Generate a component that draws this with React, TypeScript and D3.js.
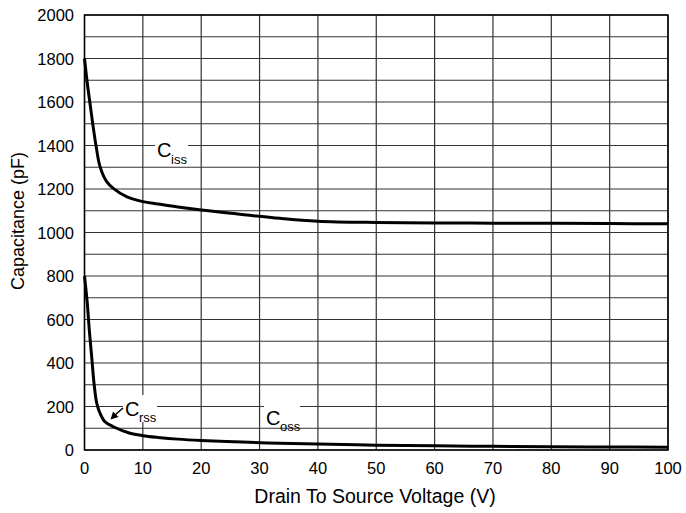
import React from "react";
import * as d3 from "d3";

const voltsIss = [0, 0.48, 0.94, 1.4, 2.0, 2.66, 3.8, 4.94, 7.2, 10, 12.6, 16, 20, 27, 33.5, 40, 50, 60, 70, 80, 90, 100];
const ciss = [1800, 1686, 1594, 1502, 1395, 1303, 1234, 1203, 1165, 1142, 1131, 1117, 1103, 1083, 1065, 1052, 1046, 1044, 1043, 1042, 1041, 1040];
const voltsRss = [0, 0.48, 0.82, 1.23, 1.63, 2.1, 2.66, 3.5, 4.94, 7.8, 10, 12.6, 16, 20, 27, 33.5, 40, 50, 60, 70, 80, 90, 100];
const crss = [800, 674, 552, 429, 307, 215, 169, 130, 107, 77, 66, 58, 50, 44, 37, 31, 28, 22, 19, 17, 15, 14, 13];
const xTicks = [0, 10, 20, 30, 40, 50, 60, 70, 80, 90, 100];
const yTicks = [0, 200, 400, 600, 800, 1000, 1200, 1400, 1600, 1800, 2000];
const yGrid = d3.range(0, 2001, 100);

const FONT = "Liberation Sans, Arial, sans-serif";

export default function App() {
  const L = 84.5, R = 668, T = 15, B = 450;
  const x = d3.scaleLinear().domain([0, 100]).range([L, R]);
  const y = d3.scaleLinear().domain([0, 2000]).range([B, T]);
  const line = d3.line<[number, number]>().x(d => x(d[0])).y(d => y(d[1])).curve(d3.curveCatmullRom.alpha(0.5));
  const issPts = voltsIss.map((v, i) => [v, ciss[i]] as [number, number]);
  const rssPts = voltsRss.map((v, i) => [v, crss[i]] as [number, number]);
  return (
    <svg width={686} height={513} style={{ position: "absolute", left: 0, top: 0 }} fontFamily={FONT}>
      <rect x={0} y={0} width={686} height={513} fill="#fff" />
      {yGrid.map(v => (
        <line key={"h" + v} x1={L} x2={R} y1={y(v)} y2={y(v)} stroke="#333" strokeWidth={1.2} />
      ))}
      {xTicks.map(v => (
        <line key={"v" + v} x1={x(v)} x2={x(v)} y1={T} y2={B} stroke="#333" strokeWidth={1.2} />
      ))}
      {/* label backgrounds */}
      <rect x={155} y={134} width={33} height={30} fill="#fff" />
      <rect x={123} y={395} width={34} height={27} fill="#fff" />
      <rect x={264} y={397} width={36} height={28} fill="#fff" />
      <rect x={L} y={T} width={R - L} height={B - T} fill="none" stroke="#000" strokeWidth={1.5} />
      <path d={line(issPts) || ""} fill="none" stroke="#000" strokeWidth={3} />
      <path d={line(rssPts) || ""} fill="none" stroke="#000" strokeWidth={3} />
      <text x={157} y={157} fontSize={20}>C</text>
      <text x={171} y={164} fontSize={13}>iss</text>
      <text x={125} y={416} fontSize={20}>C</text>
      <text x={139} y={422} fontSize={13}>rss</text>
      <text x={266} y={425} fontSize={20}>C</text>
      <text x={280} y={431} fontSize={13}>oss</text>
      <line x1={123} y1={408} x2={115} y2={415} stroke="#000" strokeWidth={1.5} />
      <path d="M110.5,419.5 L113,411.5 L118.5,417 Z" fill="#000" />
      {yTicks.map(v => (
        <text key={"yl" + v} x={74} y={y(v) + 6} fontSize={16.5} textAnchor="end">{v}</text>
      ))}
      {xTicks.map(v => (
        <text key={"xl" + v} x={x(v)} y={474} fontSize={16.5} textAnchor="middle">{v}</text>
      ))}
      <text x={375} y={503} fontSize={19.5} textAnchor="middle">Drain To Source Voltage (V)</text>
      <text transform="translate(24,221) rotate(-90)" fontSize={18} textAnchor="middle">Capacitance (pF)</text>
    </svg>
  );
}
